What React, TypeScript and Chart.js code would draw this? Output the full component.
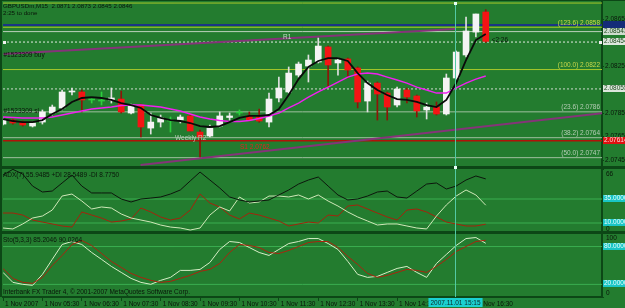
import React, { useEffect, useRef } from "react";
import { Chart, registerables } from "chart.js";

Chart.register(...registerables);

// ---------------- data ----------------
const symbolName = "GBPUSDm,M15";
const barTimerText = "2:25 to done";

const opens = [2.07756, 2.0779, 2.07773, 2.07739, 2.07773, 2.0785, 2.07893, 2.08029, 2.08029, 2.07961, 2.07952, 2.07961, 2.07969, 2.0785, 2.07918, 2.07722, 2.07773, 2.07782, 2.0779, 2.07825, 2.07688, 2.07654, 2.07739, 2.07812, 2.0785, 2.07825, 2.07816, 2.07773, 2.07978, 2.08029, 2.08173, 2.0825, 2.08284, 2.08412, 2.08276, 2.0831, 2.08233, 2.07952, 2.08105, 2.0802, 2.07918, 2.08046, 2.07995, 2.07876, 2.07901, 2.07842, 2.08148, 2.08344, 2.08539, 2.0871];
const highs = [2.07808, 2.07799, 2.07782, 2.07773, 2.07876, 2.07918, 2.08046, 2.08063, 2.08046, 2.07986, 2.08029, 2.08063, 2.08037, 2.07927, 2.07927, 2.0785, 2.07833, 2.07816, 2.07833, 2.07842, 2.07705, 2.07748, 2.07859, 2.0785, 2.07876, 2.07859, 2.07884, 2.0802, 2.08156, 2.08242, 2.08284, 2.08344, 2.08488, 2.0842, 2.08318, 2.08318, 2.08242, 2.08122, 2.08114, 2.08029, 2.08071, 2.08063, 2.08003, 2.07935, 2.07944, 2.08182, 2.08378, 2.08667, 2.08693, 2.0873];
const lows = [2.07748, 2.07756, 2.07739, 2.07731, 2.07756, 2.07833, 2.07876, 2.08003, 2.07859, 2.07935, 2.07918, 2.07935, 2.0785, 2.07842, 2.07646, 2.07671, 2.07731, 2.07688, 2.07765, 2.07697, 2.07476, 2.07646, 2.07731, 2.0779, 2.07833, 2.07782, 2.07773, 2.07731, 2.07944, 2.0802, 2.08156, 2.08114, 2.08276, 2.08071, 2.08173, 2.08148, 2.07893, 2.07859, 2.0779, 2.0779, 2.07901, 2.07935, 2.07816, 2.07799, 2.07833, 2.07833, 2.08139, 2.08327, 2.08497, 2.0845];
const closes = [2.0779, 2.07765, 2.07748, 2.07765, 2.07859, 2.07901, 2.08029, 2.08037, 2.07961, 2.07961, 2.07952, 2.07978, 2.07859, 2.07918, 2.07731, 2.07773, 2.07808, 2.07782, 2.07816, 2.07697, 2.07646, 2.07722, 2.07825, 2.07825, 2.0785, 2.0779, 2.07782, 2.07969, 2.08063, 2.0819, 2.08267, 2.08301, 2.0842, 2.08259, 2.08301, 2.08216, 2.07944, 2.08105, 2.08012, 2.07901, 2.08054, 2.07986, 2.07867, 2.07901, 2.07842, 2.08148, 2.08369, 2.08548, 2.08693, 2.0846];

const maFast = [2.07799, 2.07782, 2.07773, 2.07773, 2.0779, 2.07842, 2.07884, 2.07944, 2.07978, 2.07986, 2.07978, 2.07961, 2.07935, 2.07918, 2.07893, 2.07833, 2.07808, 2.0779, 2.07782, 2.07765, 2.07739, 2.07731, 2.07739, 2.07773, 2.07808, 2.07825, 2.07825, 2.07833, 2.07884, 2.08003, 2.08139, 2.08242, 2.08293, 2.08318, 2.08318, 2.08293, 2.0819, 2.08105, 2.08046, 2.08003, 2.07969, 2.07961, 2.07944, 2.07918, 2.07901, 2.07961, 2.08105, 2.08301, 2.08471, 2.08522];
const maSlow = [2.07816, 2.07812, 2.07808, 2.07808, 2.07808, 2.07816, 2.07833, 2.0785, 2.07867, 2.07884, 2.07893, 2.07901, 2.07914, 2.07918, 2.07918, 2.0791, 2.07901, 2.07884, 2.07867, 2.07842, 2.07816, 2.07799, 2.07786, 2.07778, 2.07778, 2.07786, 2.07803, 2.07825, 2.0785, 2.07893, 2.07935, 2.07986, 2.08029, 2.08071, 2.08114, 2.08156, 2.08182, 2.0819, 2.08182, 2.08156, 2.08131, 2.08105, 2.08071, 2.08046, 2.0802, 2.0802, 2.08063, 2.08105, 2.08139, 2.08165];

const adxMain = [60.0, 65.9, 61.0, 48.5, 42.3, 43.3, 51.7, 60.0, 48.5, 41.3, 41.3, 41.3, 35.0, 31.9, 35.0, 36.0, 37.1, 40.2, 44.4, 53.8, 63.1, 54.8, 46.5, 37.1, 34.0, 31.9, 32.9, 34.0, 39.2, 44.4, 50.6, 54.8, 57.9, 48.5, 39.2, 34.0, 35.0, 38.1, 42.3, 43.3, 37.1, 36.0, 43.3, 50.6, 51.7, 45.4, 48.5, 54.8, 59.0, 55.9485];
const plusDI = [4.8, 3.8, 9.0, 15.2, 17.3, 23.5, 38.1, 40.2, 32.9, 24.6, 26.7, 25.6, 19.4, 15.2, 13.1, 11.0, 7.9, 5.8, 4.8, 2.7, 4.8, 18.3, 26.7, 22.5, 37.1, 30.8, 31.9, 38.1, 38.1, 37.1, 39.2, 35.0, 39.2, 32.9, 27.7, 21.5, 16.3, 12.1, 7.9, 9.0, 9.0, 6.9, 4.8, 3.8, 17.3, 28.8, 38.1, 44.4, 39.2, 28.5489];
const minusDI = [20.4, 20.4, 18.3, 13.1, 11.0, 9.0, 6.9, 5.8, 21.5, 18.3, 15.2, 11.0, 12.1, 14.2, 25.6, 21.5, 16.3, 13.1, 15.2, 23.5, 40.2, 30.8, 26.7, 18.3, 14.2, 20.4, 18.3, 15.2, 12.1, 6.9, 9.0, 11.0, 10.0, 18.3, 17.3, 27.7, 28.8, 24.6, 20.4, 16.3, 13.1, 23.5, 24.6, 21.5, 16.3, 11.0, 9.0, 6.9, 6.9, 8.775];
const adxLevels = [35, 10];

const stochMain = [39.0, 23.2, 20.1, 18.5, 35.9, 59.7, 83.3, 88.0, 83.3, 70.6, 59.7, 48.5, 39.0, 29.5, 23.2, 20.1, 26.4, 31.1, 42.2, 42.2, 43.8, 54.8, 75.4, 88.0, 86.4, 78.5, 70.6, 65.9, 75.4, 84.8, 88.0, 92.7, 92.7, 84.8, 75.4, 56.4, 35.9, 31.1, 32.7, 39.0, 45.3, 48.5, 39.0, 31.1, 53.2, 67.5, 81.7, 92.7, 94.3, 85.2046];
const stochSignal = [45.3, 29.5, 23.2, 21.6, 31.1, 50.1, 65.9, 83.3, 89.6, 81.7, 69.0, 56.4, 46.9, 37.4, 31.1, 26.4, 23.2, 24.8, 29.5, 34.3, 40.6, 43.8, 53.2, 70.6, 83.3, 81.7, 78.5, 70.6, 69.0, 73.8, 80.1, 86.4, 88.0, 88.0, 78.5, 64.3, 51.7, 37.4, 31.1, 34.3, 39.0, 43.8, 42.2, 39.0, 48.5, 59.6, 72.2, 80.1, 88.0, 90.0264];
const stochLevels = [80, 20];
const stochRange = [100, 0];

const timeLabels = ["1 Nov 2007", "1 Nov 05:30", "1 Nov 06:30", "1 Nov 07:30", "1 Nov 08:30", "1 Nov 09:30", "1 Nov 10:30", "1 Nov 11:30", "1 Nov 12:30", "1 Nov 13:30", "1 Nov 14:30", "1 Nov 15:30", "1 Nov 16:30"];
const barsPerTimeLabel = 4;
const cursorIndex = 45.85;
const cursorLabel = "2007.11.01 15:15";

const priceTicks = [2.0865, 2.0845, 2.0825, 2.0805, 2.0785, 2.0765, 2.0745];
const priceMin = 2.07382;
const priceMax = 2.08795;
const xMin = 0;
const xMax = 60.8;

const fibNames = ["(123.6)", "(100.0)", "(23.6)", "(38.2)", "(50.0)"];
const fibPrices = [2.0858, 2.0822, 2.0786, 2.0764, 2.0747];

// other horizontal lines: top level, bid(navy), pivot-ish lines, red S line
const levelPrices = [2.08786, 2.08599, 2.08543, 2.08454, 2.08055, 2.07614];
const axisMarkPrices = [2.08599, 2.08543, 2.08454, 2.08055, 2.07614];

const trendUpper = [[0.05, 2.08352], [45.94, 2.08565]];
const trendLower = [[13.96, 2.07408], [61.0, 2.0785]];

const noteTexts = ["R1", "#1523309 buy", "#1523309 sl", "Weekly R2", "S1 2.0762", "<2:26"];
const noteX = [28.42, 0.05, 0.05, 17.46, 24.06, 49.6];
const notePrices = [2.08497, 2.08344, 2.07867, 2.07637, 2.07561, 2.08471];

const copyrightText = "Interbank FX Trader 4, \u00a9 2001-2007 MetaQuotes Software Corp.";

// ---------------- styles ----------------
const FONT = "'Liberation Sans', Arial, sans-serif";
const BG = "#237c2f";
const DARK = "#0c4716";
const TEXT = "#0a150a";
const levelStyles = [
  { color: "#a6c82a", width: 1, dash: [] as number[] },
  { color: "#1a3584", width: 2, dash: [] as number[] },
  { color: "#bcd0bc", width: 1, dash: [] as number[] },
  { color: "#e4ece4", width: 1, dash: [2, 2] },
  { color: "#cfdccf", width: 1, dash: [2, 2] },
  { color: "#b01208", width: 1.5, dash: [] as number[] },
];
const fibLineColors = ["#a6c82a", "#a6c82a", "#9fbf9f", "#9fbf9f", "#9fbf9f"];
const fibTextColors = ["#c9d84a", "#c9d84a", "#b4ccb4", "#b4ccb4", "#b4ccb4"];
const axisMarkStyles = [
  { bg: "#142c78", fg: "#142c78" },
  { bg: "#cfdccf", fg: "#1c4a1c" },
  { bg: "#dde7dd", fg: "#1c4a1c" },
  { bg: "#dde7dd", fg: "#1c4a1c" },
  { bg: "#e01010", fg: "#f4dede" },
];
const noteColors = ["#c8d8c8", TEXT, TEXT, "#b8ccb8", "#e42020", TEXT];

const hline = (price: number, color: string, width: number, dash: number[], axis: string, order = 6) => ({
  type: "line",
  data: [{ x: xMin, y: price }, { x: xMax, y: price }],
  borderColor: color,
  borderWidth: width,
  borderDash: dash,
  pointRadius: 0,
  fill: false,
  yAxisID: axis,
  order,
});

const series = (vals: number[], color: string, width: number, axis: string, order = 1) => ({
  type: "line",
  data: vals.map((v, i) => ({ x: i, y: v })),
  borderColor: color,
  borderWidth: width,
  pointRadius: 0,
  tension: 0,
  fill: false,
  yAxisID: axis,
  order,
});

const mt4Plugin = {
  id: "mt4",
  beforeDraw(chart: any) {
    const { ctx, width, height } = chart;
    ctx.save();
    ctx.fillStyle = BG;
    ctx.fillRect(0, 0, width, height);
    ctx.restore();
  },
  afterDraw(chart: any) {
    const { ctx, chartArea: ca, width: W } = chart;
    const sx = chart.scales.x;
    const sy = chart.scales.y;
    const s2 = chart.scales.y2;
    const s3 = chart.scales.y3;
    const text = (s: string, x: number, y: number, color: string, align = "left", baseline = "middle", size = 6.5) => {
      ctx.font = `${size}px ${FONT}`;
      ctx.fillStyle = color;
      ctx.textAlign = align;
      ctx.textBaseline = baseline;
      ctx.fillText(s, x, y);
    };
    ctx.save();

    // frame / separators
    ctx.fillStyle = DARK;
    ctx.fillRect(0, 0, W, 1);
    ctx.fillRect(0, 0, 2, ca.bottom);
    [sy.bottom, s2.bottom].forEach((b: number) => ctx.fillRect(0, Math.round(b) - 2, W, 3));

    // fib labels
    fibNames.forEach((n, k) => {
      const p = fibPrices[k];
      text(`${n} ${p.toFixed(4)}`, ca.right - 2, sy.getPixelForValue(p) - 1, fibTextColors[k], "right", "bottom");
    });

    // notes
    noteTexts.forEach((t, k) => {
      text(t, sx.getPixelForValue(noteX[k]), sy.getPixelForValue(notePrices[k]), noteColors[k]);
    });

    // headers
    const last = opens.length - 1;
    text(`${symbolName}  ${opens[last].toFixed(4)} ${highs[last].toFixed(4)} ${lows[last].toFixed(4)} ${closes[last].toFixed(4)}`, ca.left, ca.top + 4.5, TEXT, "left", "middle", 6.2);
    text(barTimerText, ca.left, ca.top + 11, TEXT, "left", "middle", 6.2);
    const al = adxMain.length - 1;
    text(`ADX(7) ${adxMain[al].toFixed(4)} +DI ${plusDI[al].toFixed(4)} -DI ${minusDI[al].toFixed(4)}`, ca.left, s2.top + 7, TEXT);
    const sl = stochMain.length - 1;
    text(`Sto(5,3,3) ${stochMain[sl].toFixed(4)} ${stochSignal[sl].toFixed(4)}`, ca.left, s3.top + 7, TEXT);
    text(copyrightText, ca.left, s3.bottom - 5, TEXT);

    // cursor
    const cx = Math.round(sx.getPixelForValue(cursorIndex)) + 0.5;
    ctx.strokeStyle = "#52c9a4";
    ctx.lineWidth = 1;
    ctx.beginPath();
    ctx.moveTo(cx, ca.top);
    ctx.lineTo(cx, ca.bottom);
    ctx.stroke();
    ctx.fillStyle = "#e8fff4";
    ctx.fillRect(cx - 1.5, ca.top, 3, 3);
    ctx.fillRect(cx - 1.5, Math.round(sy.bottom) - 2, 3, 3);

    // small squares at dashed line ends
    const dy = Math.round(sy.getPixelForValue(levelPrices[3]));
    ctx.fillStyle = "#f0f0f0";
    ctx.fillRect(ca.left, dy - 1, 3, 3);
    ctx.fillRect(ca.right - 3, dy - 1, 3, 3);

    // axis boxes
    const box = (y: number, label: string, bg: string, fg: string) => {
      ctx.fillStyle = bg;
      ctx.fillRect(ca.right + 1, Math.round(y) - 4, W - ca.right - 1, 7);
      text(label, ca.right + 2, Math.round(y) - 0.5, fg);
    };
    axisMarkPrices.forEach((p, k) => box(sy.getPixelForValue(p), p.toFixed(5), axisMarkStyles[k].bg, axisMarkStyles[k].fg));
    adxLevels.forEach((v) => box(s2.getPixelForValue(v), v.toFixed(4), "#1ac6c6", "#eaffff"));
    stochLevels.forEach((v) => box(s3.getPixelForValue(v), v.toFixed(4), "#1ac6c6", "#eaffff"));

    // sub-window range labels (top label below its tick, bottom label above)
    const adxTop = Math.round(Math.max(...adxMain));
    text(String(adxTop), ca.right + 4, s2.getPixelForValue(adxTop) + 4.5, TEXT);
    text("0", ca.right + 4, s2.getPixelForValue(0) - 3.5, TEXT);
    text(String(stochRange[0]), ca.right + 4, s3.getPixelForValue(stochRange[0]) + 4, TEXT);
    text(String(stochRange[1]), ca.right + 4, s3.getPixelForValue(stochRange[1]) - 4, TEXT);

    // time cursor box
    ctx.font = `6.5px ${FONT}`;
    const tw = ctx.measureText(cursorLabel).width + 4;
    ctx.fillStyle = "#1ad0d0";
    ctx.fillRect(cx - tw / 2, ca.bottom + 1, tw, 9);
    text(cursorLabel, cx, ca.bottom + 6, "#0a2a2a", "center");

    ctx.restore();
  },
};

export default function App() {
  const ref = useRef<HTMLCanvasElement>(null);
  useEffect(() => {
    document.body.style.margin = "0";
    const canvas = ref.current as HTMLCanvasElement;
    const kind = opens.map((o, i) => (closes[i] > o ? 1 : closes[i] < o ? -1 : 0));
    const bodyCol = kind.map((k) => (k > 0 ? "#f4f4f4" : k < 0 ? "#f41414" : "#2ccf3e"));
    const wickCol = kind.map((k) => (k > 0 ? "#e0e0e0" : k < 0 ? "#8e1408" : "#2ccf3e"));

    const datasets: any[] = [
      series(maFast, "#0a0a0a", 1.8, "y", 1),
      series(maSlow, "#f020f0", 1.4, "y", 1),
      {
        type: "bar",
        data: opens.map((o, i) => ({ x: i, y: [o, closes[i]] })),
        backgroundColor: bodyCol,
        borderWidth: 0,
        barThickness: 6,
        minBarLength: 1,
        grouped: false,
        yAxisID: "y",
        order: 2,
      },
      {
        type: "bar",
        data: lows.map((l, i) => ({ x: i, y: [l, highs[i]] })),
        backgroundColor: wickCol,
        borderWidth: 0,
        barThickness: 1,
        grouped: false,
        yAxisID: "y",
        order: 3,
      },
      {
        type: "line",
        data: trendUpper.map(([x, y]) => ({ x, y })),
        borderColor: "#853479",
        borderWidth: 2,
        pointRadius: 0,
        yAxisID: "y",
        order: 4,
      },
      {
        type: "line",
        data: trendLower.map(([x, y]) => ({ x, y })),
        borderColor: "#853479",
        borderWidth: 2,
        pointRadius: 0,
        yAxisID: "y",
        order: 4,
      },
      ...levelPrices.map((p, k) => hline(p, levelStyles[k].color, levelStyles[k].width, levelStyles[k].dash, "y")),
      ...fibPrices.map((p, k) => hline(p, fibLineColors[k], 1, [], "y")),
      ...adxLevels.map((v) => hline(v, "#3aae50", 1, [], "y2")),
      series(adxMain, "#0c160c", 1, "y2", 1),
      series(plusDI, "#cfe8b8", 1, "y2", 1),
      series(minusDI, "#a3240c", 1, "y2", 1),
      ...stochLevels.map((v) => hline(v, "#3aae50", 1, [], "y3")),
      series(stochSignal, "#ab240e", 1, "y3", 1),
      series(stochMain, "#d6eec6", 1, "y3", 1),
    ];

    const tickFont = { family: FONT, size: 6.5 };
    const yCommon = (weight: number) => ({
      type: "linear",
      position: "right",
      stack: "mt4",
      stackWeight: weight,
      grid: { display: true, drawOnChartArea: false, drawTicks: true, tickLength: 2, color: DARK },
      border: { display: true, color: DARK, width: 2 },
      afterFit: (s: any) => {
        s.width = 23;
        s.paddingTop = 0;
        s.paddingBottom = 0;
      },
    });

    const chart = new Chart(canvas, {
      type: "line",
      data: { datasets },
      options: {
        animation: false,
        responsive: false,
        devicePixelRatio: 1,
        events: [],
        layout: { padding: { left: 3, top: 2, right: 0, bottom: 0 } },
        plugins: { legend: { display: false }, tooltip: { enabled: false } },
        scales: {
          x: {
            type: "linear",
            min: xMin,
            max: xMax,
            offset: false,
            afterBuildTicks: (s: any) => {
              s.ticks = timeLabels.map((_, k) => ({ value: k * barsPerTimeLabel }));
            },
            ticks: {
              callback: (_v: any, idx: number) => timeLabels[idx],
              autoSkip: false,
              maxRotation: 0,
              minRotation: 0,
              align: "start",
              labelOffset: 2,
              padding: -1,
              font: tickFont,
              color: TEXT,
            },
            grid: { display: true, drawOnChartArea: false, drawTicks: true, tickLength: 4, color: DARK, offset: false },
            border: { display: true, color: DARK, width: 2 },
            afterFit: (s: any) => {
              s.height = 11;
              s.paddingLeft = 0;
              s.paddingRight = 0;
            },
          },
          y: {
            ...yCommon(166),
            min: priceMin,
            max: priceMax,
            afterBuildTicks: (s: any) => {
              s.ticks = priceTicks.map((v) => ({ value: v }));
            },
            ticks: { callback: (v: any) => Number(v).toFixed(4), autoSkip: false, padding: 1, font: tickFont, color: TEXT },
          },
          y2: {
            ...yCommon(65),
            min: -0.4,
            max: 67.3,
            afterBuildTicks: (s: any) => {
              s.ticks = [{ value: Math.round(Math.max(...adxMain)) }, { value: 0 }];
            },
            ticks: { display: false },
          },
          y3: {
            ...yCommon(64),
            min: 0,
            max: 101.5,
            afterBuildTicks: (s: any) => {
              s.ticks = stochRange.map((v) => ({ value: v }));
            },
            ticks: { display: false },
          },
        },
      } as any,
      plugins: [mt4Plugin],
    } as any);
    return () => chart.destroy();
  }, []);
  return (
    <div style={{ width: 625, height: 308 }}>
      <canvas ref={ref} width={625} height={308} style={{ display: "block" }} />
    </div>
  );
}
